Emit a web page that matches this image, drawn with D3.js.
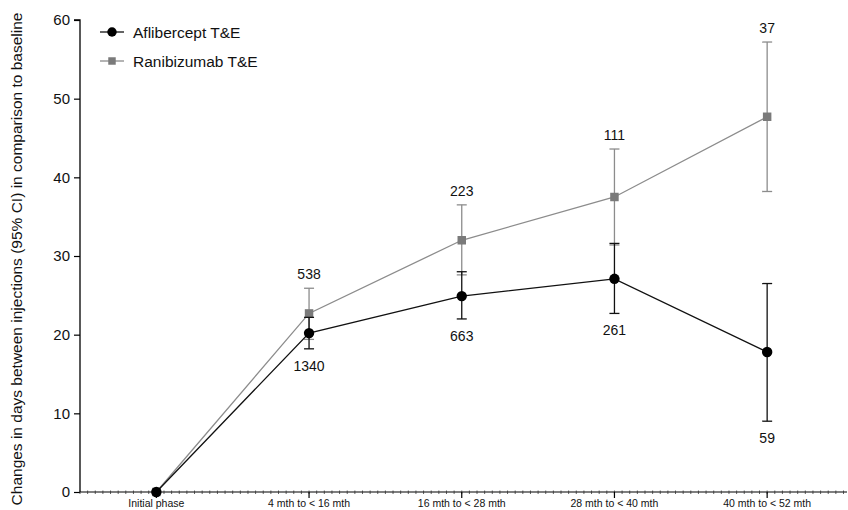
<!doctype html>
<html lang="en">
<head>
<meta charset="UTF-8">
<title>Injection interval change</title>
<script src="https://cdn.jsdelivr.net/npm/d3@7"></script>
<style>
  body { margin: 0; background: #fff; font-family: "Liberation Sans", Arial, sans-serif; }
  svg text { font-family: "Liberation Sans", Arial, sans-serif; }
</style>
</head>
<body>
<svg id="chart" width="848" height="510"></svg>
<script>
// categories on the x axis
const phases = ["Initial phase", "4 mth to < 16 mth", "16 mth to < 28 mth", "28 mth to < 40 mth", "40 mth to < 52 mth"];

// Aflibercept T&E: mean, 95% CI and n
const afliMean  = [0, 20.2, 24.9, 27.1, 17.8];
const afliLow   = [0, 18.2, 22.0, 22.7, 9.0];
const afliHigh  = [0, 22.2, 28.0, 31.6, 26.5];
const afliN     = ["", "1340", "663", "261", "59"];

// Ranibizumab T&E
const raniMean  = [0, 22.7, 32.0, 37.5, 47.7];
const raniLow   = [0, 19.4, 27.6, 31.4, 38.2];
const raniHigh  = [0, 25.9, 36.5, 43.6, 57.2];
const raniN     = ["", "538", "223", "111", "37"];

const yTicks = [0, 10, 20, 30, 40, 50, 60];

const svg = d3.select("#chart");

const x = d3.scaleLinear().domain([0, 5]).range([80, 843.5]);
const y = d3.scaleLinear().domain([0, 60]).range([492, 20]);

// y axis
const yAxis = svg.append("g")
    .attr("transform", "translate(80,0)")
    .call(d3.axisLeft(y).tickValues(yTicks).tickSize(6).tickPadding(4));
yAxis.select(".domain").attr("stroke", "#000").attr("stroke-width", 1.3).attr("d", "M-6,20H0V492");
yAxis.selectAll(".tick line").attr("stroke", "#000").attr("stroke-width", 1.2);
yAxis.selectAll(".tick text").attr("font-size", 15).attr("fill", "#111");

// x axis: baseline with minor ticks and major ticks under categories
const xg = svg.append("g");
xg.append("line")
    .attr("x1", x(0)).attr("x2", 847)
    .attr("y1", y(0)).attr("y2", y(0))
    .attr("stroke", "#000").attr("stroke-width", 1.2);
xg.selectAll(".minor")
    .data(d3.range(0, 101))
    .join("line")
    .attr("x1", d => x(d / 20)).attr("x2", d => x(d / 20))
    .attr("y1", y(0) - 1.5).attr("y2", y(0) + 2)
    .attr("stroke", "#333").attr("stroke-width", 0.8);
xg.selectAll(".major")
    .data(phases)
    .join("line")
    .attr("x1", (d, i) => x(i + 0.5)).attr("x2", (d, i) => x(i + 0.5))
    .attr("y1", y(0)).attr("y2", y(0) + 6)
    .attr("stroke", "#000").attr("stroke-width", 1.2);
xg.selectAll(".xlab")
    .data(phases)
    .join("text")
    .attr("x", (d, i) => x(i + 0.5))
    .attr("y", 507)
    .attr("text-anchor", "middle")
    .attr("font-size", 10.5)
    .attr("fill", "#111")
    .text(d => d);

// y title
svg.append("text")
    .attr("transform", "translate(22,259) rotate(-90)")
    .attr("text-anchor", "middle")
    .attr("font-size", 15.5)
    .attr("fill", "#111")
    .text("Changes in days between injections (95% CI) in comparison to baseline");

function drawSeries(mean, low, high, n, color, markColor, shape, labelAbove) {
    const g = svg.append("g");
    const idx = d3.range(mean.length);
    // error bars
    idx.slice(1).forEach(i => {
        const cx = x(i + 0.5);
        g.append("line").attr("x1", cx).attr("x2", cx)
            .attr("y1", y(low[i])).attr("y2", y(high[i]))
            .attr("stroke", color).attr("stroke-width", 1.3);
        [low[i], high[i]].forEach(v => {
            g.append("line").attr("x1", cx - 5).attr("x2", cx + 5)
                .attr("y1", y(v)).attr("y2", y(v))
                .attr("stroke", color).attr("stroke-width", 1.3);
        });
        g.append("text")
            .attr("x", cx)
            .attr("y", labelAbove ? y(high[i]) - 9 : y(low[i]) + 22)
            .attr("text-anchor", "middle")
            .attr("font-size", 14)
            .attr("fill", "#111")
            .text(n[i]);
    });
    // line
    g.append("path")
        .datum(idx)
        .attr("fill", "none")
        .attr("stroke", color)
        .attr("stroke-width", 1.3)
        .attr("d", d3.line().x(i => x(i + 0.5)).y(i => y(mean[i])));
    // markers
    g.selectAll(".m")
        .data(idx)
        .join("path")
        .attr("transform", i => `translate(${x(i + 0.5)},${y(mean[i])})`)
        .attr("d", d3.symbol().type(shape).size(shape === d3.symbolSquare ? 72 : 85))
        .attr("fill", markColor);
}

drawSeries(raniMean, raniLow, raniHigh, raniN, "#8c8c8c", "#7a7a7a", d3.symbolSquare, true);
drawSeries(afliMean, afliLow, afliHigh, afliN, "#111", "#000", d3.symbolCircle, false);

// legend
const legend = svg.append("g");
const legItems = [
    { name: "Aflibercept T&E", color: "#111", mark: "#000", shape: d3.symbolCircle, size: 70 },
    { name: "Ranibizumab T&E", color: "#8c8c8c", mark: "#7a7a7a", shape: d3.symbolSquare, size: 56 }
];
legItems.forEach((d, i) => {
    const ly = 32 + i * 29;
    legend.append("line").attr("x1", 100).attr("x2", 124).attr("y1", ly).attr("y2", ly)
        .attr("stroke", d.color).attr("stroke-width", 1.3);
    legend.append("path").attr("transform", `translate(112,${ly})`)
        .attr("d", d3.symbol().type(d.shape).size(d.size)).attr("fill", d.mark);
    legend.append("text").attr("x", 133).attr("y", ly + 5.5)
        .attr("font-size", 15.5).attr("fill", "#111").text(d.name);
});
</script>
</body>
</html>
